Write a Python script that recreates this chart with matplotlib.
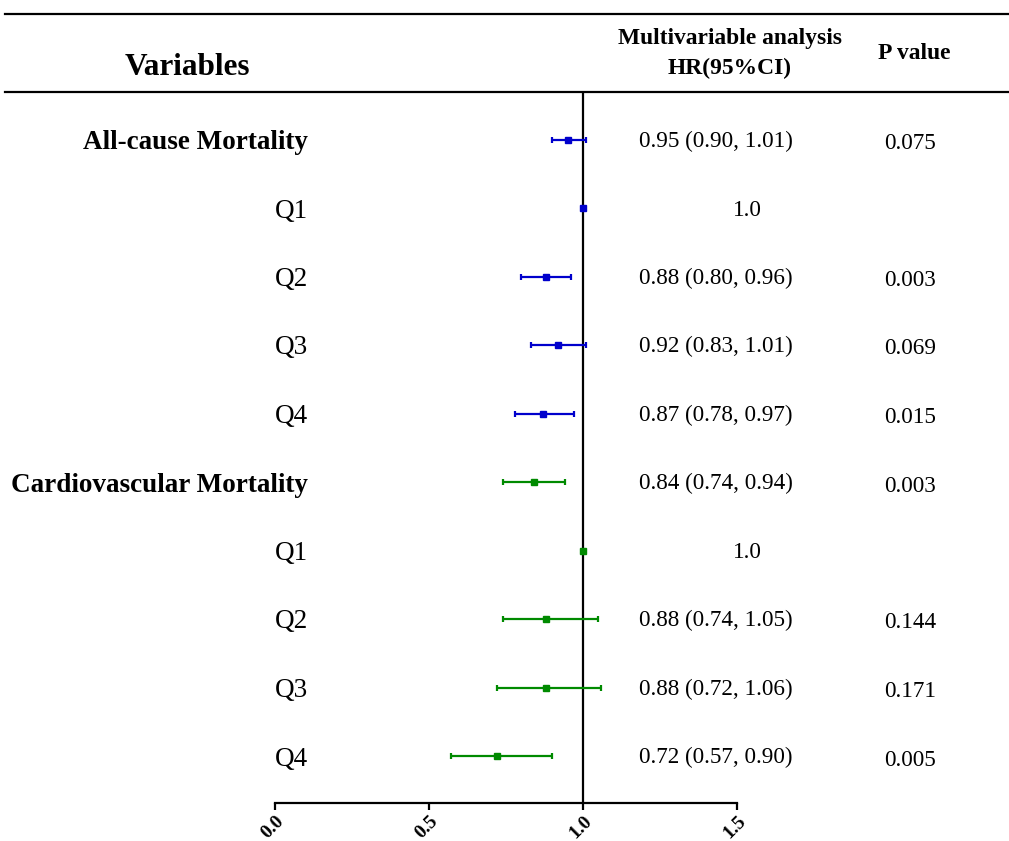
import numpy as np
import matplotlib
matplotlib.use('Agg')
import matplotlib.pyplot as plt

plt.rcParams['font.family'] = ['Liberation Serif', 'DejaVu Serif']

labels = ['All-cause Mortality', 'Q1', 'Q2', 'Q3', 'Q4',
          'Cardiovascular Mortality', 'Q1', 'Q2', 'Q3', 'Q4']
is_header = [True, False, False, False, False, True, False, False, False, False]
hr = [0.95, 1.0, 0.88, 0.92, 0.87, 0.84, 1.0, 0.88, 0.88, 0.72]
lo = [0.90, 1.0, 0.80, 0.83, 0.78, 0.74, 1.0, 0.74, 0.72, 0.57]
hi = [1.01, 1.0, 0.96, 1.01, 0.97, 0.94, 1.0, 1.05, 1.06, 0.90]
hr_text = ['0.95 (0.90, 1.01)', '1.0', '0.88 (0.80, 0.96)', '0.92 (0.83, 1.01)',
           '0.87 (0.78, 0.97)', '0.84 (0.74, 0.94)', '1.0', '0.88 (0.74, 1.05)',
           '0.88 (0.72, 1.06)', '0.72 (0.57, 0.90)']
p_text = ['0.075', '', '0.003', '0.069', '0.015', '0.003', '', '0.144', '0.171', '0.005']
groups = ['all'] * 5 + ['cv'] * 5
colors = {'all': '#0000cc', 'cv': '#008a00'}
xticks = [0.0, 0.5, 1.0, 1.5]

W, H = 1009, 841
fig = plt.figure(figsize=(W / 100, H / 100), dpi=100)

# axes spans pixel x 275..737, y 92..803
ax = fig.add_axes([275 / W, 1 - 803 / H, (737 - 275) / W, (803 - 92) / H])
y = np.arange(len(labels))
ax.set_xlim(0, 1.5)
ax.set_ylim(9.68, -0.70)

for i in range(len(labels)):
    c = colors[groups[i]]
    ax.errorbar(hr[i], y[i], xerr=[[hr[i] - lo[i]], [hi[i] - hr[i]]],
                fmt='s', color=c, ms=4.5, capsize=2.2, elinewidth=1.6,
                capthick=1.6, zorder=3)

ax.axvline(1.0, color='black', lw=1.6, zorder=2)

for s in ['top', 'right', 'left']:
    ax.spines[s].set_visible(False)
ax.spines['bottom'].set_linewidth(1.6)
ax.set_yticks([])
ax.set_xticks(xticks)
ax.set_xticklabels(['%.1f' % t for t in xticks], rotation=45, ha='right',
                   rotation_mode='anchor', fontweight='bold', fontsize=14)
ax.tick_params(axis='x', length=5, width=1.6, pad=2)

# row labels and table columns
def px(xp):
    return xp / W

for i in range(len(labels)):
    yr = 140 + 68.5 * i
    fig.text(px(308), 1 - (yr + 9) / H, labels[i], ha='right', va='baseline',
             fontsize=19.5, fontweight='bold' if is_header[i] else 'normal')
    hx = 716 if p_text[i] else 747
    fig.text(px(hx), 1 - (yr + 7) / H, hr_text[i], ha='center', va='baseline',
             fontsize=16.7)
    fig.text(px(910), 1 - (yr + 9) / H, p_text[i], ha='center', va='baseline',
             fontsize=16.7)

# header
fig.text(px(187), 1 - 75 / H, 'Variables', ha='center', va='baseline',
         fontsize=22.5, fontweight='bold')
fig.text(px(730), 1 - 44 / H, 'Multivariable analysis', ha='center', va='baseline',
         fontsize=16.9, fontweight='bold')
fig.text(px(730), 1 - 74 / H, 'HR(95%CI)', ha='center', va='baseline',
         fontsize=16.9, fontweight='bold')
fig.text(px(914), 1 - 59 / H, 'P value', ha='center', va='baseline',
         fontsize=16.9, fontweight='bold')

fig.add_artist(plt.Line2D([px(5), 1], [1 - 14 / H, 1 - 14 / H], color='black', lw=1.6))
fig.add_artist(plt.Line2D([px(5), 1], [1 - 92 / H, 1 - 92 / H], color='black', lw=1.6))

fig.savefig('out.png', dpi=100)
